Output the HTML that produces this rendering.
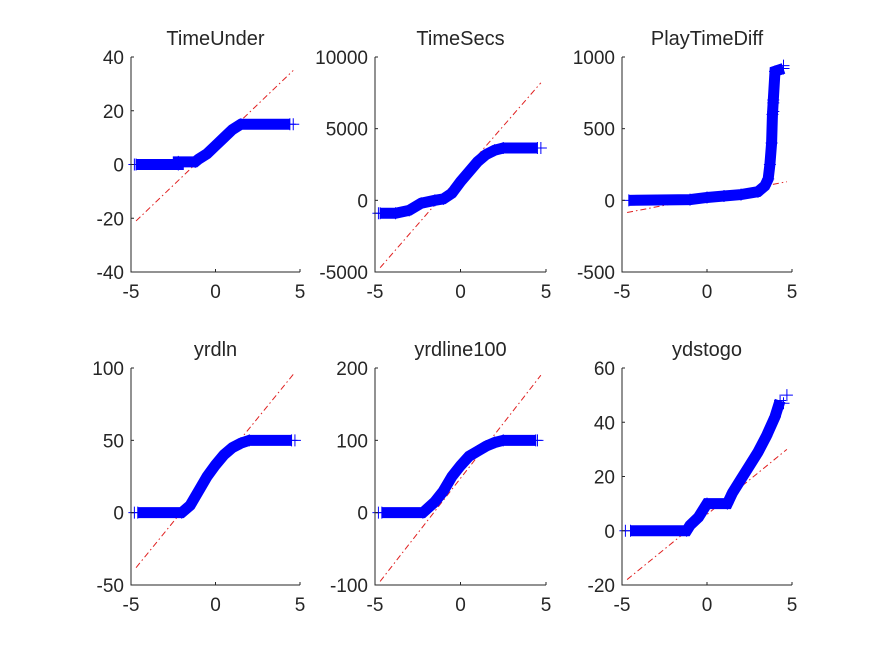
<!DOCTYPE html>
<html><head><meta charset="utf-8"><style>
body{margin:0;background:#fff}
svg text{font-family:"Liberation Sans",sans-serif;fill:#262626}
</style></head><body>
<svg id="fig" width="875" height="656" viewBox="0 0 875 656" xmlns="http://www.w3.org/2000/svg"></svg>
<script>
const titles = ["TimeUnder","TimeSecs","PlayTimeDiff","yrdln","yrdline100","ydstogo"];
const yTicks = [[-40,-20,0,20,40],[-5000,0,5000,10000],[-500,0,500,1000],[-50,0,50,100],[-100,0,100,200],[-20,0,20,40,60]];
const xTicks = [-5,0,5];
const qTimeUnderX = [-4.7,-2.2,-2.2,-1.2,-1,-0.5,0,0.5,1,1.5,4.4];
const qTimeUnderY = [0,0,1,1,2,4,7,10,13,15,15];
const qTimeSecsX = [-4.7,-3.8,-3,-2.3,-1.5,-1,-0.5,0,0.5,1,1.5,2,2.5,4.5];
const qTimeSecsY = [-900,-900,-700,-200,0,100,500,1300,2000,2700,3200,3500,3650,3650];
const qPlayX = [-4.6,-1,0,1,2,3,3.4,3.6,3.7,3.8,3.85,3.9,4.0,4.5];
const qPlayY = [0,5,20,30,40,60,100,150,250,400,600,700,900,920];
const qYrdlnX = [-4.6,-2,-1.5,-1,-0.5,0,0.5,1,1.5,2,4.5];
const qYrdlnY = [0,0,5,15,25,33,40,45,48,50,50];
const qYl100X = [-4.6,-2.2,-1.5,-1,-0.5,0,0.5,1,1.5,2,2.5,4.4];
const qYl100Y = [0,0,15,30,50,65,78,85,92,97,100,100];
const qYdsX = [-4.5,-1.2,-1,-0.5,0,1.2,1.5,2,2.5,3,3.5,4,4.3];
const qYdsY = [0,0,2,5,10,10,14,19,24,29,35,42,48];
const outX = [[-4.8,4.6],[-4.8,4.7],[3.9,3.9,4.1,4.5],[-4.8,4.7],[-4.8,4.5],[-4.8,4.5,4.7]];
const outY = [[0,15],[-900,3650],[620,680,900,940],[0,50],[0,100],[0,47,50]];
const refX1 = [-4.7,-4.7,-4.7,-4.7,-4.7,-4.7];
const refY1 = [-21,-4700,-85,-38,-95,-18];
const refX2 = [4.6,4.7,4.7,4.7,4.7,4.7];
const refY2 = [35,8200,130,97,190,30];
const seriesX = [qTimeUnderX,qTimeSecsX,qPlayX,qYrdlnX,qYl100X,qYdsX];
const seriesY = [qTimeUnderY,qTimeSecsY,qPlayY,qYrdlnY,qYl100Y,qYdsY];

const NS="http://www.w3.org/2000/svg";
const svg=document.getElementById('fig');
function mk(tag,attrs,parent){const e=document.createElementNS(NS,tag);for(const k in attrs)e.setAttribute(k,attrs[k]);(parent||svg).appendChild(e);return e;}
const colsX=[[131,300],[375,546],[622,792]];
const rowsY=[[57,272],[368,585]];
for(let i=0;i<6;i++){
  const [x0,x1]=colsX[i%3],[y0,y1]=rowsY[Math.floor(i/3)];
  const yt=yTicks[i], ymin=yt[0], ymax=yt[yt.length-1];
  const sx=v=>x0+(v+5)/10*(x1-x0);
  const sy=v=>y1-(v-ymin)/(ymax-ymin)*(y1-y0);
  const g=mk('g',{});
  
  
  const t=mk('text',{x:(x0+x1)/2,y:y0-12,'text-anchor':'middle','font-size':20},g);t.textContent=titles[i];
  
  
  const rl=mk('line',{x1:sx(refX1[i]),y1:sy(refY1[i]),x2:sx(refX2[i]),y2:sy(refY2[i]),stroke:'#e02020','stroke-width':1,'stroke-dasharray':'6,3,1.5,3'},g);
  
  
  const xs=seriesX[i],ys=seriesY[i];
  const pts=xs.map((v,k)=>sx(v)+','+sy(ys[k])).join(' ');
  const band=mk('polyline',{points:pts,fill:'none',stroke:'#0000ff','stroke-width':11,'stroke-linejoin':'miter'},g);
  
  
  const markX=xs.concat(outX[i]),markY=ys.concat(outY[i]);
  for(let k=0;k<markX.length;k++){
    const px=sx(markX[k]),py=sy(markY[k]);
    const m=mk('path',{d:`M${px-6},${py}H${px+6}M${px},${py-6}V${py+6}`,stroke:'#0000ff','stroke-width':1},g);
    
    
  }
  const ax=mk('path',{d:`M${x0},${y0}V${y1}H${x1}`,fill:'none',stroke:'#262626','stroke-width':1},g);
  
  
  yt.forEach(v=>{
    mk('line',{x1:x0,x2:x0+3,y1:sy(v),y2:sy(v),stroke:'#262626'},g);
    const l=mk('text',{x:x0-7,y:sy(v)+7,'text-anchor':'end','font-size':19},g);l.textContent=v;
    
    
  });
  xTicks.forEach(v=>{
    mk('line',{x1:sx(v),x2:sx(v),y1:y1,y2:y1-3,stroke:'#262626'},g);
    const l=mk('text',{x:sx(v),y:y1+26,'text-anchor':'middle','font-size':19},g);l.textContent=v;
    
    
  });
}
</script>
</body></html>
